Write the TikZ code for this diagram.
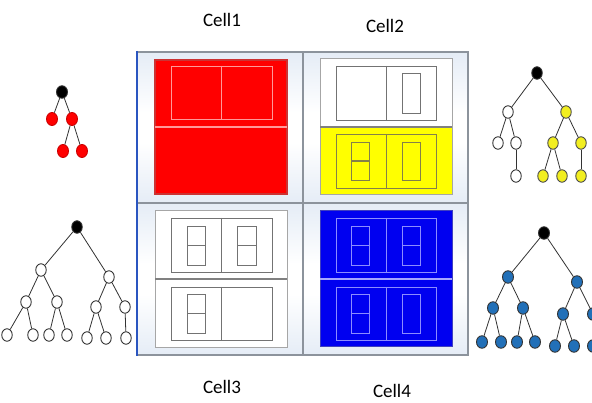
\documentclass[tikz,border=0pt]{standalone}
\usepackage{fontspec}
\setmainfont{Carlito}
\usetikzlibrary{shapes.geometric}
\definecolor{cellblue}{HTML}{BCCFE8}
\definecolor{gridgray}{HTML}{8C939C}
\definecolor{edgeblue}{HTML}{2A55C0}
\definecolor{treeblue}{HTML}{2270B8}
\definecolor{treeyellow}{HTML}{F2EE20}
\definecolor{boxred}{HTML}{FF0000}
\definecolor{boxblue}{HTML}{0000F0}
\definecolor{boxyellow}{HTML}{FFFF00}
\pgfdeclareverticalshading{cellshade}{100bp}{color(0bp)=(cellblue); color(22bp)=(cellblue!45!white); color(45bp)=(white); color(55bp)=(white); color(78bp)=(cellblue!45!white); color(100bp)=(cellblue)}
\tikzset{
  label/.style={font=\fontsize{19}{21}\selectfont, inner sep=0pt},
  cellbg/.style={shading=cellshade},
  gridline/.style={draw=gridgray, line width=2pt},
  tnode/.style={ellipse, draw=black!80, line width=0.9pt, minimum width=10.5pt, minimum height=12.5pt, inner sep=0pt},
  rootnode/.style={tnode, fill=black},
  rednode/.style={tnode, draw=red!80!black, fill=red, minimum width=11pt, minimum height=13pt},
  whitenode/.style={tnode, fill=white},
  yellownode/.style={tnode, fill=treeyellow, draw=black!70},
  bluenode/.style={tnode, fill=treeblue, draw=black!80, minimum width=11pt},
  tedge/.style={draw=black!80, line width=0.8pt},
}
\newcommand\sprect[4]{%
  \draw[\sprectcol] (#1,#2) rectangle (#3,#4);
  \draw[\sprectcol, line width=1.4pt] (#1,{(#2+#4)/2}) -- (#3,{(#2+#4)/2});}
\newcommand\sprectcol{gray}
\begin{document}
\begin{tikzpicture}[x=1pt,y=-1pt]
\useasboundingbox (0,0) rectangle (592,403);
\fill[white] (0,0) rectangle (592,403);

% ---------- panel ----------
\shade[cellbg] (137,52) rectangle (303,203);
\shade[cellbg] (303,52) rectangle (468,203);
\shade[cellbg] (137,203) rectangle (303,355);
\shade[cellbg] (303,203) rectangle (468,355);
\draw[gridline] (137,52) rectangle (468,355);
\draw[gridline] (303,52) -- (303,355);
\draw[gridline] (137,203) -- (468,203);
\draw[edgeblue, line width=2.5pt] (137,51) -- (137,356);

% ---------- Cell1 (red) ----------
\fill[boxred] (155,60) rectangle (287,194);
\draw[red!60!gray, line width=1.2pt] (155,60) rectangle (287,194);
\draw[red!40!white, line width=1.6pt] (155,127) -- (287,127);
\draw[red!40!white, line width=0.8pt] (171,66) rectangle (272,119);
\draw[red!40!white, line width=0.8pt] (221,66) -- (221,119);

% ---------- Cell2 (white / yellow) ----------
\fill[white] (320,59) rectangle (452,127);
\fill[boxyellow] (320,127) rectangle (452,195);
\draw[gray!70, line width=1pt] (320,59) rectangle (452,195);
\draw[gray, line width=1.6pt] (320,127) -- (452,127);
\draw[gray!90!black, line width=0.9pt] (336,66) rectangle (436,120);
\draw[gray!90!black, line width=0.9pt] (386,66) -- (386,120);
\draw[gray!90!black, line width=0.9pt] (402,73) rectangle (420,113);
\draw[black!55!yellow, line width=0.9pt] (336,134) rectangle (436,188);
\draw[black!55!yellow, line width=0.9pt] (386,134) -- (386,188);
\renewcommand\sprectcol{black!55!yellow}
\sprect{351}{142}{369}{180}
\draw[black!55!yellow, line width=0.9pt] (402,142) rectangle (420,180);

% ---------- Cell3 (white) ----------
\fill[white] (155,211) rectangle (287,348);
\draw[gray!70, line width=1pt] (155,211) rectangle (287,348);
\draw[gray, line width=1.6pt] (155,279) -- (287,279);
\draw[gray!90!black, line width=0.9pt] (171,218) rectangle (272,272);
\draw[gray!90!black, line width=0.9pt] (221,218) -- (221,272);
\draw[gray!90!black, line width=0.9pt] (171,287) rectangle (272,340);
\draw[gray!90!black, line width=0.9pt] (221,287) -- (221,340);
\renewcommand\sprectcol{gray!90!black}
\sprect{187}{226}{205}{265}
\sprect{237}{226}{256}{265}
\sprect{187}{294}{205}{333}

% ---------- Cell4 (blue) ----------
\fill[boxblue] (320,211) rectangle (452,347);
\draw[blue!50!gray, line width=1pt] (320,211) rectangle (452,347);
\draw[blue!35!white, line width=1.6pt] (320,279) -- (452,279);
\draw[blue!45!white, line width=0.9pt] (336,218) rectangle (436,272);
\draw[blue!45!white, line width=0.9pt] (386,218) -- (386,272);
\draw[blue!45!white, line width=0.9pt] (336,287) rectangle (436,340);
\draw[blue!45!white, line width=0.9pt] (386,287) -- (386,340);
\renewcommand\sprectcol{blue!45!white}
\sprect{351}{226}{369}{265}
\sprect{402}{226}{420}{265}
\sprect{351}{294}{369}{333}
\draw[blue!45!white, line width=0.9pt] (402,294) rectangle (420,333);

% ---------- labels ----------
\node[label] (l1) at (222,20) {Cell1};
\node[label] (l2) at (385,26) {Cell2};
\node[label] (l3) at (222,387) {Cell3};
\node[label] (l4) at (392,391) {Cell4};

% ---------- left tree 1 (red) ----------
\node[rootnode, minimum width=11pt] (a0) at (62,92) {};
\node[rednode] (a1) at (52,119) {};
\node[rednode] (a2) at (72,119) {};
\node[rednode] (a3) at (63,151) {};
\node[rednode] (a4) at (82,151) {};
\draw[tedge] (a0) -- (a1); \draw[tedge] (a0) -- (a2);
\draw[tedge] (a2) -- (a3); \draw[tedge] (a2) -- (a4);

% ---------- left tree 2 (white) ----------
\node[rootnode] (b0) at (77,227) {};
\node[whitenode] (b1) at (41,270) {};
\node[whitenode] (b2) at (109,277) {};
\node[whitenode] (b3) at (26,302) {};
\node[whitenode] (b4) at (57,302) {};
\node[whitenode] (b5) at (96,307) {};
\node[whitenode] (b6) at (125,307) {};
\node[whitenode] (b7) at (7,335) {};
\node[whitenode] (b8) at (33,335) {};
\node[whitenode] (b9) at (49,335) {};
\node[whitenode] (b10) at (67,335) {};
\node[whitenode] (b11) at (87,338) {};
\node[whitenode] (b12) at (106,338) {};
\node[whitenode] (b13) at (126,338) {};
\foreach \p/\c in {b0/b1,b0/b2,b1/b3,b1/b4,b2/b5,b2/b6,b3/b7,b3/b8,b4/b9,b4/b10,b5/b11,b5/b12,b6/b13}
  \draw[tedge] (\p) -- (\c);

% ---------- right tree 1 (yellow) ----------
\node[rootnode] (c0) at (537,73) {};
\node[whitenode] (c1) at (508,112) {};
\node[yellownode] (c2) at (566,112) {};
\node[whitenode] (c3) at (498,143) {};
\node[whitenode] (c4) at (516,143) {};
\node[yellownode] (c5) at (553,143) {};
\node[yellownode] (c6) at (581,143) {};
\node[whitenode] (c7) at (516,176) {};
\node[yellownode] (c8) at (543,176) {};
\node[yellownode] (c9) at (562,176) {};
\node[yellownode] (c10) at (581,176) {};
\foreach \p/\c in {c0/c1,c0/c2,c1/c3,c1/c4,c2/c5,c2/c6,c4/c7,c5/c8,c5/c9,c6/c10}
  \draw[tedge] (\p) -- (\c);

% ---------- right tree 2 (blue) ----------
\node[rootnode, minimum width=11pt] (d0) at (544,233) {};
\node[bluenode] (d1) at (508,277) {};
\node[bluenode] (d2) at (577,282) {};
\node[bluenode] (d3) at (493,308) {};
\node[bluenode] (d4) at (523,308) {};
\node[bluenode] (d5) at (563,314) {};
\node[bluenode] (d6) at (593,314) {};
\node[bluenode] (d7) at (482,342) {};
\node[bluenode] (d8) at (501,342) {};
\node[bluenode] (d9) at (517,342) {};
\node[bluenode] (d10) at (535,342) {};
\node[bluenode] (d11) at (555,346) {};
\node[bluenode] (d12) at (574,346) {};
\node[bluenode] (d13) at (593,346) {};
\foreach \p/\c in {d0/d1,d0/d2,d1/d3,d1/d4,d2/d5,d2/d6,d3/d7,d3/d8,d4/d9,d4/d10,d5/d11,d5/d12,d6/d13}
  \draw[tedge] (\p) -- (\c);
\end{tikzpicture}
\end{document}
